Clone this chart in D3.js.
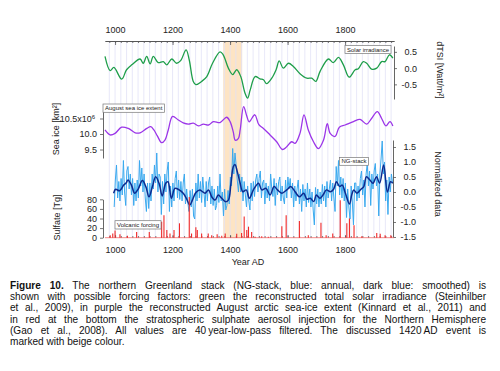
<!DOCTYPE html>
<html>
<head>
<meta charset="utf-8">
<script src="https://cdn.jsdelivr.net/npm/d3@7"></script>
<style>
  body { margin: 0; background: #fff; }
  #wrap { position: relative; width: 500px; height: 371px; overflow: hidden; font-family: "Liberation Sans", Arial, sans-serif; }
  svg text { font-family: "Liberation Sans", Arial, sans-serif; }
  #caption { position: absolute; left: 10px; top: 279.5px; width: 476px; font-size: 10.1px; line-height: 11.4px; color: #111; }
  #caption div { white-space: nowrap; text-align: justify; text-align-last: justify; height: 11.4px; }
  #caption div.last { text-align-last: left; }
</style>
</head>
<body>
<div id="wrap">
  <svg id="chart" width="500" height="371"></svg>
  <div id="caption"></div>
</div>
<script>
// solar irradiance (dTSI, W/m2), 40 yr low-pass
const solarYears = [965, 983, 996, 1023, 1040, 1058, 1087, 1098, 1110, 1122, 1133, 1150, 1168, 1180, 1197, 1214, 1228, 1247, 1258, 1272,
  1281, 1301, 1319, 1339, 1365, 1376, 1394, 1409, 1423, 1437, 1452, 1461, 1470, 1487, 1504, 1516, 1527, 1545, 1560, 1571,
  1585, 1603, 1620, 1643, 1667, 1684, 1698, 1713, 1742, 1759, 1777, 1794, 1814, 1835, 1846, 1863, 1875, 1892, 1910, 1927,
  1939, 1954, 1966];
const solarValues = [0.36, -0.08, 0.02, -0.34, -0.05, 0.10, 0.28, 0.15, 0.36, 0.13, 0.36, 0.17, 0.20, 0.10, 0.28, 0.15, 0.23, 0.56, 0.25, -0.41,
  -0.51, -0.41, -0.26, 0.15, 0.50, 0.41, 0.00, -0.20, -0.05, -0.26, -0.77, -0.92, -0.67, -0.26, -0.33, -0.36, -0.48, -0.31, -0.05, 0.22,
  0.00, 0.15, 0.05, -0.17, -0.31, -0.31, -0.41, -0.10, 0.28, 0.17, 0.33, 0.10, -0.28, -0.05, -0.02, 0.20, 0.15, -0.03, 0.00, 0.20,
  0.20, 0.41, 0.31];

// August sea ice extent (10^6 km2)
const iceYears = [965, 983, 1000, 1023, 1046, 1070, 1087, 1110, 1124, 1135, 1147, 1162, 1174, 1185, 1200, 1220, 1237, 1255, 1272, 1290,
  1307, 1325, 1342, 1365, 1388, 1400, 1411, 1418, 1429, 1435, 1447, 1458, 1466, 1472, 1486, 1500, 1516, 1539, 1562, 1582,
  1597, 1614, 1626, 1643, 1657, 1672, 1690, 1707, 1725, 1738, 1748, 1765, 1780, 1800, 1829, 1852, 1875, 1892, 1912, 1927,
  1942, 1956, 1966];
const iceValues = [10.13, 9.97, 10.02, 10.22, 10.18, 10.04, 10.04, 10.18, 10.24, 10.13, 9.94, 9.72, 9.81, 10.13, 10.57, 10.45, 10.36, 10.32, 10.35, 10.26,
  10.32, 10.29, 10.40, 10.37, 10.54, 10.40, 10.07, 9.80, 9.86, 10.13, 10.88, 10.58, 10.39, 10.45, 10.62, 10.30, 10.18, 9.97, 9.75, 9.50,
  9.59, 9.75, 9.70, 10.02, 10.62, 10.13, 9.75, 9.53, 9.81, 10.33, 10.02, 9.92, 10.22, 10.29, 10.40, 10.47, 10.32, 10.50, 10.72, 10.50,
  10.26, 10.40, 10.26];

// NG-stack, annual values read every 4 years from 997
const ngAnnualStart = 997;
const ngAnnualStep = 4;
const ngAnnual = [
  -0.50, 0.40, 0.90, -0.20, 0.35, -0.30, 0.45, -0.10, 1.05, 0.00,
  -0.45, 0.70, 0.85, 0.10, 0.60, -0.10, 0.45, -0.45, 0.30, -0.30,
  0.40, -0.20, 1.05, 0.20, 0.80, 0.00, 0.60, -0.20, -0.65, 0.30,
  -0.55, 0.30, -0.30, 0.60, 0.10, 0.90, 0.30, 1.30, 0.00, 0.60,
  0.50, -0.75, 0.35, -0.40, 0.60, 0.00, 0.70, 1.00, -0.65, 0.20,
  -0.50, 0.30, -0.30, 0.45, 0.70, -0.20, 0.40, -0.25, 0.35, -0.30,
  0.30, 0.60, -0.40, 0.10, -0.35, -0.65, 0.05, -0.50, 0.10, -0.80,
  -0.90, 0.30, -0.30, 0.60, -0.20, 0.35, -0.35, 0.50, 0.00, -0.50,
  0.35, -0.30, 0.30, 0.50, -0.40, 0.20, -0.45, 0.10, -0.60, -0.45,
  0.20, -0.35, 0.60, -0.30, 0.00, -0.80, 0.10, -0.60, -0.45, 0.05,
  -0.40, 0.50, 0.20, 1.45, 0.60, 1.30, 0.90, 0.40, 0.00, 0.60,
  0.00, 0.50, -0.30, 0.35, -0.10, -0.50, 0.20, -0.30, -0.60, 0.30,
  -0.30, 0.35, -0.15, 0.40, 0.60, 0.00, 0.45, 0.70, -0.20, 0.30,
  0.40, -0.40, 0.30, -0.20, 0.20, -0.30, 0.60, 0.10, -0.15, 0.45,
  -0.45, 0.30, -0.10, 0.35, 0.50, -0.30, 0.20, -0.20, -0.40, 0.40,
  -0.20, 0.50, 0.10, 0.45, -0.20, 0.30, -0.50, 0.20, -0.30, 0.10,
  0.40, -0.40, 0.10, -0.65, 0.25, -0.30, 0.10, -0.50, 0.30, -0.35,
  0.10, -0.50, 0.00, -0.60, -1.10, 0.15, -0.40, 0.10, -0.50, 0.00,
  -0.40, 0.25, -0.30, 0.20, -0.50, 0.35, -0.20, 0.10, 0.40, -0.30,
  0.30, -0.20, -0.65, 0.85, 0.20, 1.05, -0.10, 0.50, -0.20, 0.45,
  -0.30, 0.30, -0.85, 0.10, -0.50, -0.90, 0.20, -0.30, -1.10, 0.30,
  0.30, -0.30, 0.20, -0.20, 0.45, 0.70, -0.10, 0.40, -0.50, 0.60,
  0.95, 0.20, 0.70, -0.45, 0.60, 0.10, 0.70, 0.95, 0.20, 0.60,
  -0.80, 0.60, 1.10, 1.70, 0.60, 1.00, -0.30, 0.40, -0.75, 0.50,
  0.00, 0.60, 0.30
];

// NG-stack, smoothed
const ngSmoothYears = [995, 1002, 1016, 1030, 1039, 1045, 1057, 1068, 1080, 1095, 1107, 1118, 1130, 1141, 1153, 1164, 1176, 1184, 1196, 1208,
  1223, 1237, 1248, 1260, 1269, 1281, 1295, 1304, 1313, 1325, 1336, 1348, 1359, 1371, 1383, 1394, 1403, 1411, 1417, 1425,
  1435, 1444, 1456, 1467, 1481, 1499, 1510, 1525, 1539, 1553, 1565, 1580, 1597, 1611, 1626, 1641, 1656, 1667, 1679, 1691,
  1700, 1712, 1723, 1735, 1749, 1760, 1770, 1781, 1790, 1801, 1815, 1823, 1830, 1841, 1855, 1865, 1874, 1886, 1897, 1909,
  1920, 1934, 1947, 1958, 1966];
const ngSmoothValues = [-0.04, 0.09, 0.04, 0.23, 0.31, 0.40, 0.23, -0.04, 0.09, 0.38, 0.18, -0.16, 0.18, 0.51, 0.29, -0.13, 0.29, 0.34, -0.21, 0.12,
  0.07, -0.04, -0.21, -0.43, -0.27, -0.02, 0.07, 0.01, -0.04, 0.07, -0.16, -0.27, -0.10, -0.21, -0.32, -0.27, 0.29, 0.84, 0.92, 0.68,
  0.29, 0.01, 0.07, -0.21, 0.07, 0.29, 0.07, 0.12, -0.10, 0.18, 0.07, -0.04, 0.07, 0.18, 0.01, -0.16, -0.04, -0.24, -0.21, -0.32,
  -0.10, -0.21, -0.10, 0.07, 0.01, 0.09, 0.34, 0.18, 0.23, -0.04, -0.40, -0.10, 0.07, -0.04, 0.09, 0.18, 0.51, 0.40, 0.29, 0.51,
  0.29, 0.90, 0.00, 0.34, 0.29];

// volcanic sulfate injection (Tg)
const volcYears = [983, 992, 1000, 1017, 1043, 1075, 1119, 1162, 1170, 1180, 1191, 1205, 1224, 1258, 1266, 1281, 1286, 1301, 1324, 1336,
  1355, 1371, 1383, 1423, 1440, 1449, 1458, 1464, 1475, 1487, 1510, 1533, 1580, 1595, 1641, 1672, 1716, 1734, 1757, 1783,
  1806, 1815, 1831, 1858, 1910, 1922, 1939, 1959];
const volcValues = [5, 9, 15, 7, 4, 12, 12, 33, 47, 16, 9, 16, 30, 85, 9, 22, 16, 9, 9, 5,
  7, 4, 9, 8, 10, 44, 16, 23, 12, 2, 3, 2, 24, 47, 35, 5, 31, 5, 9, 78,
  30, 40, 26, 3, 10, 8, 5, 5];

const eventSpan = [1376, 1442];
const majorTicks = [1000, 1200, 1400, 1600, 1800];
const solarTicks = [-0.5, 0, 0.5];
const iceTicks = [9.5, 10, 10.5];
const ngTicks = [-1.5, -1, -0.5, 0, 0.5, 1, 1.5];
const sulfTicks = [0, 20, 40, 60, 80];

const captionLines = [
  ["Figure 10.", " The northern Greenland stack (NG-stack, blue: annual, dark blue: smoothed) is"],
  ["", "shown with possible forcing factors: green the reconstructed total solar irradiance (Steinhilber"],
  ["", "et al., 2009), in purple the reconstructed August arctic sea-ice extent (Kinnard et al., 2011) and"],
  ["", "in red at the bottom the stratospheric sulphate aerosol injection for the Northern Hemisphere"],
  ["", "(Gao et al., 2008). All values are 40\u2009year-low-pass filtered. The discussed 1420\u2009AD event is"],
  ["", "marked with beige colour."]
];

const PLOT = { LEFT: 105, RIGHT: 394, TOP: 41, BOTTOM: 238 };
const AXIS_COLOR = '#555';
const svg = d3.select('#chart');

const x = d3.scaleLinear().domain([965, 1970]).range([PLOT.LEFT, PLOT.RIGHT]);
const ySolar = d3.scaleLinear().domain([-0.95, 0.68]).range([99, 46]);
const yIce = d3.scaleLinear().domain([9.226, 10.903]).range([158, 106]);
const yNG = d3.scaleLinear().domain([-1.51, 1.733]).range([237.3, 140]);
const ySulf = d3.scaleLinear().domain([0, 80]).range([237.7, 199.3]);

// beige event band
svg.append('rect')
  .attr('x', x(eventSpan[0]))
  .attr('width', x(eventSpan[1]) - x(eventSpan[0]))
  .attr('y', PLOT.TOP)
  .attr('height', PLOT.BOTTOM - PLOT.TOP)
  .attr('fill', '#fde4c4');

// faint vertical grid
const minorTicks = d3.range(980, 1970, 20);
svg.append('g')
  .selectAll('line')
  .data(minorTicks)
  .enter()
  .append('line')
  .attr('x1', d => x(d))
  .attr('x2', d => x(d))
  .attr('y1', PLOT.TOP)
  .attr('y2', PLOT.BOTTOM)
  .attr('stroke', '#e2e2f6')
  .attr('stroke-width', 0.8);

function styleAxis(g) {
  g.selectAll('.domain').attr('stroke', AXIS_COLOR).attr('stroke-width', 0.9);
  g.selectAll('.tick line').attr('stroke', AXIS_COLOR).attr('stroke-width', 0.8);
  g.selectAll('.tick text').attr('fill', '#222').attr('font-size', 9);
}

// top axis
svg.append('g')
  .attr('transform', `translate(0,${PLOT.TOP})`)
  .call(d3.axisTop(x).tickValues(minorTicks).tickSizeInner(-2).tickSizeOuter(0).tickFormat(''))
  .call(styleAxis);
svg.append('g')
  .attr('transform', `translate(0,${PLOT.TOP})`)
  .call(d3.axisTop(x).tickValues(majorTicks).tickSizeInner(-4).tickSizeOuter(0).tickPadding(8).tickFormat(d3.format('d')))
  .call(styleAxis);

// bottom axis
svg.append('g')
  .attr('transform', `translate(0,${PLOT.BOTTOM})`)
  .call(d3.axisBottom(x).tickValues(minorTicks).tickSizeInner(-2).tickSizeOuter(0).tickFormat(''))
  .call(styleAxis)
  .call(g => g.select('.domain').remove());
svg.append('g')
  .attr('transform', `translate(0,${PLOT.BOTTOM})`)
  .call(d3.axisBottom(x).tickValues(majorTicks).tickSizeInner(-3).tickSizeOuter(0).tickPadding(9).tickFormat(d3.format('d')))
  .call(styleAxis)
  .call(g => g.select('.domain').remove());

const fmtSigned = v => (v < 0 ? '-' : '') + Math.abs(v).toFixed(1);

// right axes (solar, NG)
svg.append('g')
  .attr('transform', `translate(${PLOT.RIGHT},0)`)
  .call(d3.axisRight(ySolar).tickValues(solarTicks).tickSizeInner(3).tickSizeOuter(0).tickFormat(fmtSigned))
  .call(styleAxis)
  .call(g => g.selectAll('.tick text').attr('text-anchor', 'end').attr('x', 23));
svg.append('g')
  .attr('transform', `translate(${PLOT.RIGHT - 1},0)`)
  .call(d3.axisRight(yNG).tickValues(ngTicks).tickSizeInner(3).tickSizeOuter(0).tickFormat(fmtSigned))
  .call(styleAxis)
  .call(g => g.selectAll('.tick text').attr('text-anchor', 'end').attr('x', 23));

// left axes (sea ice, sulfate)
const iceAxis = svg.append('g')
  .attr('transform', `translate(${PLOT.LEFT - 2},0)`)
  .call(d3.axisLeft(yIce).tickValues(iceTicks).tickSizeInner(3).tickSizeOuter(0).tickFormat(d => d.toFixed(1)))
  .call(styleAxis);
iceAxis.selectAll('.tick text')
  .filter(d => d === 10.5)
  .text('10.5x10')
  .attr('x', -8)
  .append('tspan')
  .attr('dy', '-0.45em')
  .attr('font-size', 6)
  .text('6');
svg.append('g')
  .attr('transform', `translate(${PLOT.LEFT - 2},0)`)
  .call(d3.axisLeft(ySulf).tickValues(sulfTicks).tickSizeInner(3).tickSizeOuter(0).tickFormat(d3.format('d')))
  .call(styleAxis);

// series
const solarData = solarYears.map((yr, i) => [yr, solarValues[i]]);
const iceData = iceYears.map((yr, i) => [yr, iceValues[i]]);
const ngAnnualData = ngAnnual.map((v, i) => [ngAnnualStart + i * ngAnnualStep, v]);
const ngSmoothData = ngSmoothYears.map((yr, i) => [yr, ngSmoothValues[i]]);
const volcData = volcYears.map((yr, i) => [yr, volcValues[i]]);

const lineOf = (yScale, curve) => d3.line()
  .x(d => x(d[0]))
  .y(d => yScale(d[1]))
  .curve(curve);

svg.append('path')
  .datum(solarData)
  .attr('d', lineOf(ySolar, d3.curveCatmullRom))
  .attr('fill', 'none')
  .attr('stroke', '#1e9e4a')
  .attr('stroke-width', 1.3);

svg.append('path')
  .datum(iceData)
  .attr('d', lineOf(yIce, d3.curveCatmullRom))
  .attr('fill', 'none')
  .attr('stroke', '#9b35e8')
  .attr('stroke-width', 1.3);

svg.append('path')
  .datum(ngAnnualData)
  .attr('d', lineOf(yNG, d3.curveLinear))
  .attr('fill', 'none')
  .attr('stroke', '#3aa9ef')
  .attr('stroke-width', 1);

svg.append('path')
  .datum(ngSmoothData)
  .attr('d', lineOf(yNG, d3.curveCatmullRom))
  .attr('fill', 'none')
  .attr('stroke', '#0d2a8f')
  .attr('stroke-width', 1.5);

// volcanic forcing: baseline + spikes
svg.append('line')
  .attr('x1', x.range()[0])
  .attr('x2', x.range()[1])
  .attr('y1', ySulf(0))
  .attr('y2', ySulf(0))
  .attr('stroke', '#f26a6a')
  .attr('stroke-width', 0.8);
svg.append('g')
  .selectAll('line')
  .data(volcData)
  .enter()
  .append('line')
  .attr('x1', d => x(d[0]))
  .attr('x2', d => x(d[0]))
  .attr('y1', ySulf(0))
  .attr('y2', d => ySulf(d[1]))
  .attr('stroke', '#f02828')
  .attr('stroke-width', 1.1);

// legend boxes
function addLabel(text, left, top, height) {
  const g = svg.append('g');
  const t = g.append('text')
    .attr('x', left + 2)
    .attr('y', top + height - 2)
    .attr('font-size', 6)
    .attr('fill', '#222')
    .text(text);
  const w = t.node().getComputedTextLength();
  g.insert('rect', 'text')
    .attr('x', left)
    .attr('y', top)
    .attr('width', w + 4)
    .attr('height', height)
    .attr('fill', '#fff')
    .attr('stroke', '#777')
    .attr('stroke-width', 0.7);
}
addLabel('Solar irradiance', 345, 45.5, 8);
addLabel('August sea ice extent', 103, 104, 8.3);
addLabel('NG-stack', 339.5, 157.5, 7.8);
addLabel('Volcanic forcing', 115, 220.7, 8.3);

// axis titles
function addTitle(text, cx, cy, angle) {
  svg.append('text')
    .attr('transform', `translate(${cx},${cy}) rotate(${angle})`)
    .attr('text-anchor', 'middle')
    .attr('dy', '0.35em')
    .attr('font-size', 9)
    .attr('fill', '#222')
    .text(text);
}
addTitle('dTSI [Watt/m\u00b2]', 440, 70, 90);
addTitle('Normalized data', 438, 184, 90);
addTitle('Sea ice [km\u00b2]', 56, 129, -90);
addTitle('Sulfate [Tg]', 57, 217.5, -90);
addTitle('Year AD', 248, 262.3, 0);

// caption
const cap = d3.select('#caption');
captionLines.forEach((parts, i) => {
  const line = cap.append('div').classed('last', i === captionLines.length - 1);
  if (parts[0]) line.append('b').text(parts[0]);
  line.append('span').text(parts[1]);
});
</script>
</body>
</html>
